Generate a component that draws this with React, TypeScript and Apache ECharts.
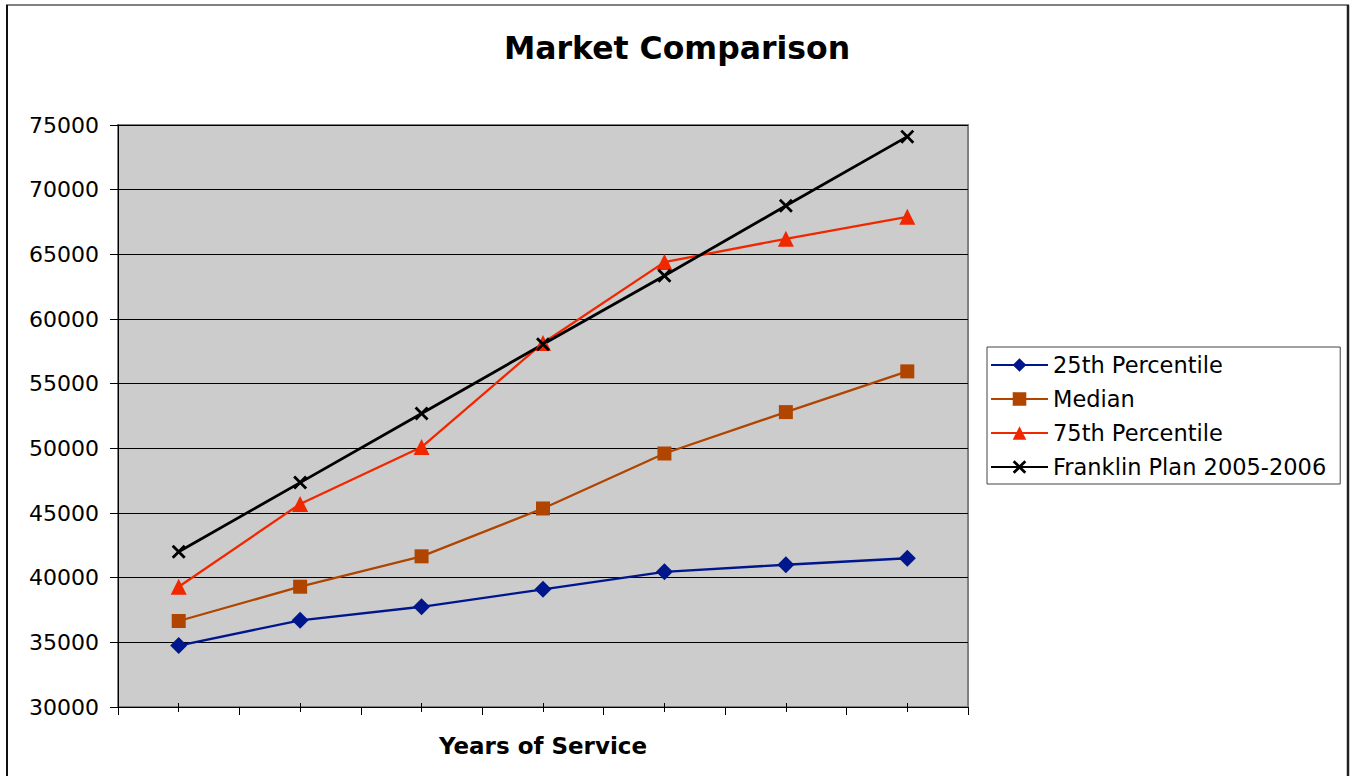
import React, { useEffect, useRef } from "react";
import * as echarts from "echarts";

const categories = ["1", "2", "3", "4", "5", "6", "7"];
const yTicks = { min: 30000, max: 75000, interval: 5000 };

const p25 = [34750, 36700, 37750, 39100, 40450, 41000, 41500];
const median = [36650, 39300, 41650, 45350, 49600, 52800, 55950];
const p75 = [39300, 45700, 50100, 58150, 64400, 66200, 67900];
const franklin = [42000, 47350, 52700, 58050, 63350, 68750, 74100];

const seriesNames = ["25th Percentile", "Median", "75th Percentile", "Franklin Plan 2005-2006"];

const FONT = "DejaVu Sans";
const CROSS = "path://M0,1.7L1.7,0L6,4.3L10.3,0L12,1.7L7.7,6L12,10.3L10.3,12L6,7.7L1.7,12L0,10.3L4.3,6Z";

export default function App() {
  const ref = useRef<HTMLDivElement>(null);
  useEffect(() => {
    if (!ref.current) return;
    const chart = echarts.init(ref.current, null, { renderer: "svg" });
    const axisCommon = {
      type: "category" as const,
      data: categories,
      position: "bottom" as const,
      gridIndex: 0,
      axisLabel: { show: false },
    };
    chart.setOption({
      animation: false,
      backgroundColor: "#ffffff",
      title: {
        text: "Market Comparison",
        left: 672,
        top: 27,
        textAlign: "center",
        textStyle: { fontFamily: FONT, fontSize: 31.5, fontWeight: "bold", color: "#000" },
      },
      grid: {
        left: 118,
        top: 125,
        width: 850,
        height: 582,
        show: true,
        backgroundColor: "#cccccc",
        borderColor: "#808080",
        borderWidth: 2,
      },
      legend: {
        orient: "vertical",
        left: 987,
        top: 347,
        padding: [6, 14, 5, 3],
        itemGap: 10,
        itemWidth: 57,
        itemHeight: 17,
        borderColor: "#444",
        borderWidth: 1,
        backgroundColor: "#ffffff",
        textStyle: { fontFamily: FONT, fontSize: 22.5, color: "#000", lineHeight: 24 },
        data: seriesNames,
      },
      xAxis: [
        {
          ...axisCommon,
          boundaryGap: true,
          name: "Years of Service",
          nameLocation: "middle",
          nameGap: 27,
          nameTextStyle: { fontFamily: FONT, fontSize: 23, fontWeight: "bold", color: "#000" },
          axisLine: { show: true, lineStyle: { color: "#000", width: 1 } },
          axisTick: { show: true, inside: false, length: 8, alignWithLabel: false, lineStyle: { color: "#000" } },
          splitLine: { show: false },
        },
        {
          ...axisCommon,
          boundaryGap: true,
          axisLine: { show: false },
          axisTick: { show: true, inside: true, length: 4, alignWithLabel: true, lineStyle: { color: "#000" } },
          splitLine: { show: false },
        },
        {
          ...axisCommon,
          boundaryGap: true,
          axisLine: { show: false },
          axisTick: { show: true, inside: false, length: 5, alignWithLabel: true, lineStyle: { color: "#000" } },
          splitLine: { show: false },
        },
      ],
      yAxis: {
        type: "value",
        min: yTicks.min,
        max: yTicks.max,
        interval: yTicks.interval,
        axisLine: { show: true, lineStyle: { color: "#000", width: 1 } },
        axisTick: { show: true, length: 8, lineStyle: { color: "#000" } },
        axisLabel: {
          fontFamily: FONT,
          fontSize: 22,
          color: "#000",
          margin: 19,
          formatter: (v: number) => String(v),
        },
        splitLine: { show: true, lineStyle: { color: "#000", width: 1 } },
      },
      graphic: [
        { type: "line", shape: { x1: 6, y1: 5, x2: 1349, y2: 5 }, style: { stroke: "#808080", lineWidth: 2 } },
        { type: "line", shape: { x1: 7, y1: 5, x2: 7, y2: 776 }, style: { stroke: "#111", lineWidth: 2 } },
        { type: "line", shape: { x1: 1348, y1: 5, x2: 1348, y2: 776 }, style: { stroke: "#222", lineWidth: 2.5 } },
      ],
      series: [
        {
          name: seriesNames[0],
          type: "line",
          data: p25,
          symbol: "diamond",
          symbolSize: 17,
          color: "#00168c",
          lineStyle: { width: 2.3, color: "#00168c" },
        },
        {
          name: seriesNames[1],
          type: "line",
          data: median,
          symbol: "rect",
          symbolSize: 14,
          color: "#b04500",
          lineStyle: { width: 2.3, color: "#b04500" },
        },
        {
          name: seriesNames[2],
          type: "line",
          data: p75,
          symbol: "triangle",
          symbolSize: 16,
          color: "#f02800",
          lineStyle: { width: 2.3, color: "#f02800" },
        },
        {
          name: seriesNames[3],
          type: "line",
          data: franklin,
          symbol: CROSS,
          symbolSize: 14,
          color: "#000000",
          lineStyle: { width: 2.8, color: "#000000" },
        },
      ],
    });
    return () => chart.dispose();
  }, []);
  return (
    <div
      ref={ref}
      style={{ position: "fixed", left: 0, top: 0, width: 1351, height: 776 }}
    />
  );
}
